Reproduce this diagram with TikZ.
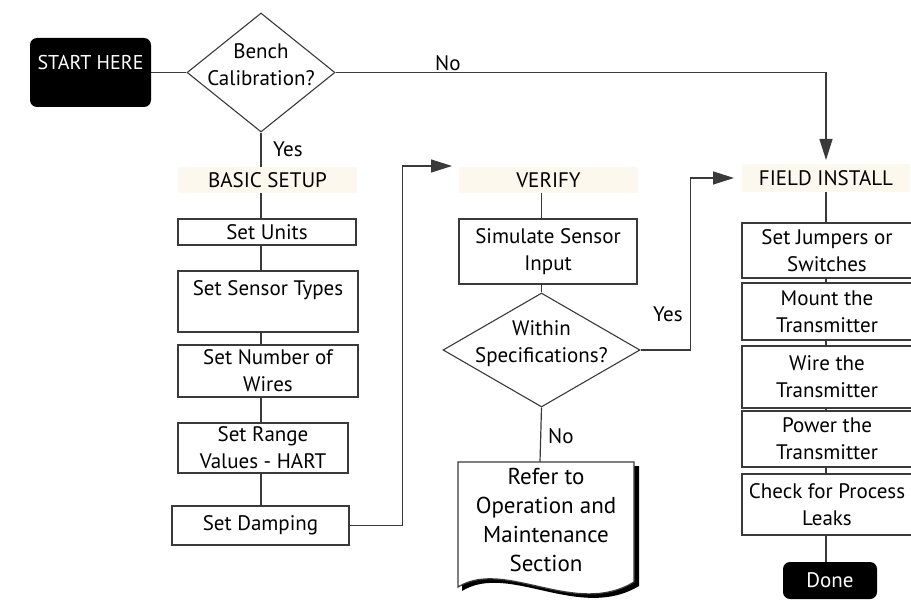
\documentclass[tikz,border=0pt]{standalone}
\usepackage{fontspec}
\setmainfont{PT Sans}
\usetikzlibrary{shapes.geometric,arrows.meta,backgrounds}
\definecolor{linec}{HTML}{3A3A3A}
\definecolor{bandc}{HTML}{FDF8EE}
\newcommand{\fs}{\fontsize{21}{27}\selectfont}
\newcommand{\fsb}{\fontsize{23}{28.7}\selectfont}
\newcommand{\fst}{\fontsize{20}{24}\selectfont}
\begin{document}
\begin{tikzpicture}[x=1pt,y=-1pt,
  line/.style={draw=linec, line width=1.2pt},
  arr/.style={line, -{Triangle[length=21pt,width=13pt]}},
  box/.style={draw=linec, line width=1.1pt, fill=white, inner sep=0pt, align=center, font=\fs},
  band/.style={fill=bandc, inner sep=0pt, font=\fs},
  dia/.style={diamond, draw=linec, line width=1.1pt, fill=white, inner sep=0pt},
  term/.style={fill=black, rounded corners=7pt, text=white, inner sep=0pt, font=\fst},
  lbl/.style={inner sep=0pt, align=center, font=\fs}]
\useasboundingbox (0,0) rectangle (911,607);
\clip (0,0) rectangle (911,607);

% start and first decision
\node[term, minimum width=121pt, minimum height=69pt, text height=14pt, text depth=20pt] (start) at (90.5,72.5) {START HERE};
\node[dia, minimum width=148pt, minimum height=119pt] (bench) at (261,72.5) {};
\node[lbl] (benchtxt) at (261,65) {Bench\\Calibration?};

% basic setup column
\node[band, minimum width=179pt, minimum height=26pt] (basic) at (267.5,180) {BASIC SETUP};
\node[box, minimum width=178pt, minimum height=26pt] (units) at (267,232) {Set Units};
\node[box, minimum width=180pt, minimum height=61pt] (sensor) at (268,301.5) {Set Sensor Types\\\mbox{}};
\node[box, minimum width=180pt, minimum height=52pt] (wires) at (268,371) {Set Number of\\Wires};
\node[box, minimum width=170pt, minimum height=50pt] (range) at (263,448) {Set Range\\Values - HART};
\node[box, minimum width=177pt, minimum height=39pt] (damping) at (260.5,525.5) {Set Damping};

% verify column
\node[band, minimum width=179pt, minimum height=26pt] (verify) at (548.5,180) {VERIFY};
\node[box, minimum width=178pt, minimum height=65pt] (sim) at (548,251.5) {Simulate Sensor\\Input};
\node[dia, minimum width=197pt, minimum height=114pt] (within) at (541.5,350) {};
\node[lbl] (withintxt) at (541.5,344) {Within\\Specifications?};

% document shape
\path[fill=black] (462,466) -- (639,466) -- (639,586) .. controls (579,622) and (509,562) .. (462,591) -- cycle;
\draw[line, fill=white] (458,462) -- (634,462) -- (634,582) .. controls (575,618) and (505,558) .. (458,587) -- cycle;
\node[lbl, font=\fsb] (doc) at (546,520) {Refer to\\Operation and\\Maintenance\\Section};
\coordinate (doctop) at (540,462);

% field install column
\node[band, minimum width=168pt, minimum height=28pt] (field) at (826,178) {FIELD INSTALL};
\node[box, minimum width=170pt, minimum height=55pt] (jump) at (827,250.5) {Set Jumpers or\\Switches};
\node[box, minimum width=170pt, minimum height=57pt] (mount) at (827,311.5) {Mount the\\Transmitter};
\node[box, minimum width=170pt, minimum height=62pt] (wire) at (827,377) {Wire the\\Transmitter};
\node[box, minimum width=170pt, minimum height=56pt] (power) at (827,439) {Power the\\Transmitter};
\node[box, minimum width=170pt, minimum height=61pt] (check) at (827,504.5) {Check for Process\\Leaks};
\node[term, minimum width=94pt, minimum height=37pt, font=\fs] (done) at (830,580.5) {Done};

% arrow targets
\coordinate (vin) at (452,166);
\coordinate (fin) at (734,178);
\coordinate (ftop) at (826,160);

% connectors
\begin{scope}[on background layer]
\draw[line] (start.east) -- (bench.west);
\draw[arr] (bench.east) -| (ftop);
\draw[line] (bench.south) -- (bench.south |- damping.north);
\draw[arr] (damping.east) -- ++(53,0) |- (vin);
\draw[line] (within.north |- verify.south) -- (within.north);
\draw[arr] (within.east) -- ++(50,0) |- (fin);
\draw[line] (within.south) -- (doctop);
\draw[line] (field.south) -- (field.south |- done.north);
\end{scope}

% labels
\node[lbl, anchor=west] (no1) at (435,63) {No};
\node[lbl, anchor=west] (yes1) at (273,149) {Yes};
\node[lbl, anchor=west] (yes2) at (653,314) {Yes};
\node[lbl, anchor=west] (no2) at (548,436) {No};
\end{tikzpicture}
\end{document}
